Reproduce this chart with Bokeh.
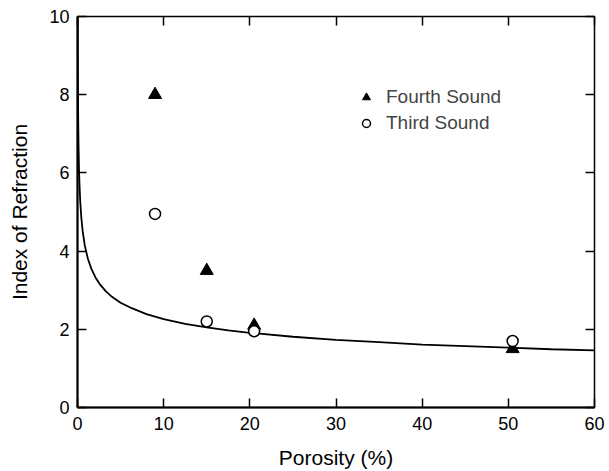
from bokeh.plotting import figure
from bokeh.models import Range1d, LinearAxis, FixedTicker, Legend, LegendItem
from bokeh.embed import file_html
from bokeh.resources import INLINE

# Data
porosity_fourth = [9.0, 15.0, 20.5, 50.5]
index_fourth = [8.0, 3.5, 2.1, 1.5]
porosity_third = [9.0, 15.0, 20.5, 50.5]
index_third = [4.95, 2.2, 1.95, 1.7]
curve_x = [0.022, 0.03, 0.05, 0.08, 0.12, 0.17, 0.23, 0.32, 0.45, 0.6, 0.85, 1.2, 1.6,
           2.1, 2.6, 3.3, 4.0, 5.0, 6.3, 8.0, 10.0, 12.5, 15.0, 17.5, 20.0, 25.0,
           30.0, 35.0, 40.0, 45.0, 50.0, 55.0, 60.0]
curve_y = [10.0, 9.4, 8.3, 7.4, 6.7, 6.14, 5.7, 5.26, 4.84, 4.51, 4.14, 3.81, 3.55,
           3.32, 3.15, 2.97, 2.83, 2.68, 2.54, 2.39, 2.26, 2.14, 2.05, 1.97, 1.91, 1.81,
           1.73, 1.67, 1.61, 1.57, 1.53, 1.49, 1.46]
x_ticks = [0, 10, 20, 30, 40, 50, 60]
y_ticks = [0, 2, 4, 6, 8, 10]

FONT = "Liberation Sans"

p = figure(frame_width=517, frame_height=391, output_backend="svg", toolbar_location=None,
           x_range=Range1d(0, 60), y_range=Range1d(0, 10),
           min_border_left=77, min_border_right=14, min_border_top=16, min_border_bottom=64)
p.grid.visible = False
p.outline_line_color = "black"
p.outline_line_width = 1.5
p.background_fill_color = "white"
p.border_fill_color = "white"

p.xaxis.ticker = FixedTicker(ticks=x_ticks)
p.yaxis.ticker = FixedTicker(ticks=y_ticks)
for ax in (p.xaxis[0], p.yaxis[0]):
    ax.axis_line_width = 2
    ax.axis_line_color = "black"
    ax.major_tick_in = 9
    ax.major_tick_out = 0
    ax.major_tick_line_width = 1.5
    ax.minor_tick_line_color = None
    ax.major_label_text_font = FONT
    ax.major_label_text_font_size = "18px"
    ax.major_label_text_color = "black"
    ax.axis_label_text_font = FONT
    ax.axis_label_text_font_size = "21px"
    ax.axis_label_text_font_style = "normal"
    ax.axis_label_text_color = "black"
p.xaxis.major_label_standoff = 9
p.yaxis.major_label_standoff = 8
p.xaxis.axis_label = "Porosity (%)"
p.yaxis.axis_label = "Index of Refraction"
p.xaxis.axis_label_standoff = 13
p.yaxis.axis_label_standoff = 15

# mirrored inside ticks on top and right (no labels)
p.add_layout(LinearAxis(ticker=FixedTicker(ticks=[], minor_ticks=x_ticks),
                        minor_tick_in=9, minor_tick_out=0, minor_tick_line_width=1.5,
                        minor_tick_line_color="black", axis_line_color=None,
                        major_tick_line_color=None), "above")
p.add_layout(LinearAxis(ticker=FixedTicker(ticks=[], minor_ticks=y_ticks),
                        minor_tick_in=9, minor_tick_out=0, minor_tick_line_width=1.5,
                        minor_tick_line_color="black", axis_line_color=None,
                        major_tick_line_color=None), "right")

p.line(curve_x, curve_y, line_color="black", line_width=1.8)
r4 = p.scatter(porosity_fourth, index_fourth, marker="triangle", size=13,
               fill_color="black", line_color="black")
r3 = p.scatter(porosity_third, index_third, marker="circle", size=11,
               fill_color="white", line_color="black", line_width=1.5)

legend = Legend(items=[LegendItem(label="Fourth Sound", renderers=[r4]),
                       LegendItem(label="Third Sound", renderers=[r3])],
                location=(279, 273), padding=0, spacing=4, glyph_width=20, glyph_height=20,
                label_standoff=10, label_text_font=FONT, label_text_font_size="19px",
                border_line_color=None, background_fill_alpha=0)
p.add_layout(legend)

open("out.html", "w").write(file_html(p, INLINE))
